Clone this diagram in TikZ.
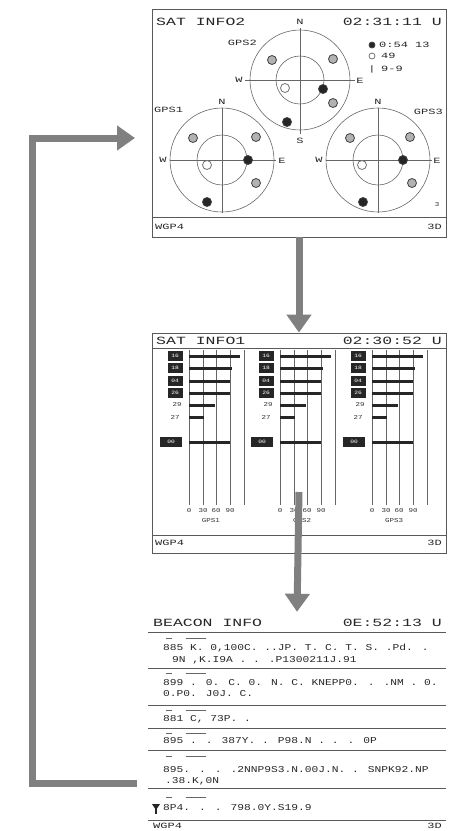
\documentclass[tikz,border=0pt]{standalone}
\usepackage{fontspec}
\newfontfamily\lcd[FakeStretch=1.5]{Liberation Mono}
\newfontfamily\lcdrow[FakeStretch=1.25]{Liberation Mono}
\usetikzlibrary{arrows.meta}

\begin{document}
\begin{tikzpicture}[x=1pt, y=-1pt,
  screen/.style={draw=black!65, line width=0.8pt, minimum width=294pt, inner sep=0pt},
  sepline/.style={draw=black!65, line width=0.7pt},
  gridline/.style={draw=black!60, line width=0.6pt},
  lcdtitle/.style={font=\lcd\fontsize{11}{11}\selectfont, text=black!85, inner sep=0pt},
  lcdsmall/.style={font=\lcd\fontsize{8}{8}\selectfont, text=black!85, inner sep=0pt},
  lcdtiny/.style={font=\lcdrow\fontsize{6}{6}\selectfont, text=black!80, inner sep=0pt},
  lcdline/.style={font=\lcdrow\fontsize{9}{9}\selectfont, text=black!85, inner sep=0pt, anchor=west},
  sat/.style={circle, draw=black!75, line width=0.8pt, fill=black!30, minimum size=9pt, inner sep=0pt},
  satfix/.style={sat, fill=black!85},
  satlost/.style={sat, fill=white, draw=black!55},
  satbar/.style={draw=black!85, line width=3pt},
  satid/.style={fill=black!85, text=white, font=\lcdrow\fontsize{5}{5}\selectfont, minimum width=15pt, minimum height=10pt, inner sep=0pt},
  flow/.style={draw=black!50, line width=7pt, -{Triangle[width=24pt,length=18pt]}},
]
\useasboundingbox (0,0) rectangle (448,831);

%% SAT INFO2 screen
\node[screen, minimum height=228pt] (info2) at (299,123) {};
\draw[sepline] (152,217) -- (446,217);
\node[lcdtitle, anchor=west] (t2l) at (156,22) {SAT  INFO2};
\node[lcdtitle, anchor=east] (t2r) at (442,22) {02:31:11 U};
\node[lcdsmall, anchor=west] (b2l) at (155,227) {WGP4};
\node[lcdsmall, anchor=east] (b2r) at (442,227) {3D};

%% compass plots
\draw[gridline] (300,80) circle (50pt) (300,80) circle (24pt);
\draw[gridline] (245,80) -- (355,80) (300,28) -- (300,134);
\node[lcdsmall] (n2) at (300,22) {N};
\node[lcdsmall] (w2) at (239,80) {W};
\node[lcdsmall] (e2) at (360,81) {E};
\node[lcdsmall] (s2) at (300,141) {S};
\node[lcdsmall, anchor=east] (g2) at (257,43) {GPS2};

\draw[gridline] (222,160) circle (52pt) (222,160) circle (25pt);
\draw[gridline] (170,160) -- (276,160) (222,108) -- (222,213);
\node[lcdsmall] (n1) at (222,102) {N};
\node[lcdsmall] (w1) at (163,160) {W};
\node[lcdsmall] (e1) at (282,161) {E};
\node[lcdsmall, anchor=west] (g1) at (154,110) {GPS1};

\draw[gridline] (378,160) circle (52pt) (378,160) circle (25pt);
\draw[gridline] (326,160) -- (432,160) (378,108) -- (378,213);
\node[lcdsmall] (n3) at (378,102) {N};
\node[lcdsmall] (w3) at (319,160) {W};
\node[lcdsmall] (e3) at (437,161) {E};
\node[lcdsmall, anchor=east] (g3) at (443,112) {GPS3};

%% satellites
\foreach \x/\y [count=\i] in {272/60, 333/59, 333/103, 193/138, 256/137, 256/183, 350/138, 410/137, 412/183}
  \node[sat] (sv\i) at (\x,\y) {};
\foreach \x/\y [count=\i] in {323/89, 287/122, 248/160, 207/202, 403/160, 363/202}
  \node[satfix] (sf\i) at (\x,\y) {};
\foreach \x/\y [count=\i] in {285/88, 207/165, 362/165}
  \node[satlost] (sl\i) at (\x,\y) {};

%% legend
\node[satfix, minimum size=6pt] (k1) at (372,45) {};
\node[lcdsmall, anchor=west] (k1t) at (379,45) {0:54 13};
\node[satlost, minimum size=6pt] (k2) at (372,56) {};
\node[lcdsmall, anchor=west] (k2t) at (381,56) {49};
\node[lcdsmall] (k3) at (372,69) {|};
\node[lcdsmall, anchor=west] (k3t) at (381,69) {9-9};
\node[lcdtiny] (mk) at (437,205) {3};

%% SAT INFO1 screen
\node[screen, minimum height=220pt] (info1) at (299,443) {};
\draw[sepline] (152,348) -- (446,348) (152,535) -- (446,535);
\node[lcdtitle, anchor=west] (t1l) at (156,341) {SAT  INFO1};
\node[lcdtitle, anchor=east] (t1r) at (442,341) {02:30:52 U};
\node[lcdsmall, anchor=west] (b1l) at (155,543) {WGP4};
\node[lcdsmall, anchor=east] (b1r) at (442,543) {3D};

\foreach \px [count=\i] in {189,280,372} {
  \foreach \g in {0,14,27,41,55}
    \draw[gridline] (\px+\g,350) -- (\px+\g,505);
  \foreach \by/\bl in {356/51,368/43,381/41,393/41,405/26,417/15,442/41}
    \draw[satbar] (\px,\by) -- (\px+\bl,\by);
  \foreach \by/\id in {356/16,368/18,381/04,393/26}
    \node[satid] at (\px-14,\by) {\id};
  \node[lcdtiny] at (\px-12,405) {29};
  \node[lcdtiny] at (\px-14,417) {27};
  \node[satid, minimum width=22pt] at (\px-18,442) {00};
  \foreach \g/\v in {0/0,14/30,27/60,41/90}
    \node[lcdtiny] at (\px+\g,511) {\v};
  \node[lcdtiny] at (\px+22,521) {GPS\i};
}

%% BEACON INFO screen
\node[minimum width=298pt, minimum height=228pt, inner sep=0pt] (beacon) at (297,726) {};
\node[lcdtitle, anchor=west] (tbl) at (153,623) {BEACON INFO};
\node[lcdtitle, anchor=east] (tbr) at (442,623) {0E:52:13 U};
\foreach \ly in {632,668,705,728,750,788,820}
  \draw[sepline] (148,\ly) -- (446,\ly);
\foreach \t in {638,673,710,733,756,797}
  \draw[gridline] (166,\t) -- (172,\t) (186,\t) -- (206,\t);

\node[lcdline] (r1a) at (163,648) {885 K. 0,100C. ..JP. T. C. T. S. .Pd. .};
\node[lcdline] (r1b) at (172,660) {9N ,K.I9A . . .P1300211J.91};
\node[lcdline] (r2a) at (163,683) {899 . 0. C. 0. N. C. KNEPP0. . .NM . 0.};
\node[lcdline] (r2b) at (163,694) {0.P0. J0J. C.};
\node[lcdline] (r3) at (163,719) {881 C, 73P. .};
\node[lcdline] (r4) at (163,741) {895 . . 387Y. . P98.N . . . 0P};
\node[lcdline] (r5a) at (163,770) {895. . . .2NNP9S3.N.00J.N. . SNPK92.NP};
\node[lcdline] (r5b) at (165,781) {.38.K,0N};
\node[lcdline] (r6) at (163,808) {8P4. . .  798.0Y.S19.9};
\fill[black!85] (152,804) -- (160,804) -- (156,810) -- cycle;
\draw[black!85, line width=1.2pt] (156,808) -- (156,814);
\node[lcdsmall, anchor=west] (bbl) at (153,826) {WGP4};
\node[lcdsmall, anchor=east] (bbr) at (442,826) {3D};

%% arrows between screens
\coordinate (down2) at (299,492);
\coordinate (back) at (137,783);
\coordinate (loop) at (32,138);
\coordinate (tip) at (135,138);
\draw[flow] (info2.south) -- (info1.north);
\draw[flow] (down2) -- (beacon.north);
\draw[flow, line join=miter] (back) -| (loop) -- (tip);
\end{tikzpicture}
\end{document}
